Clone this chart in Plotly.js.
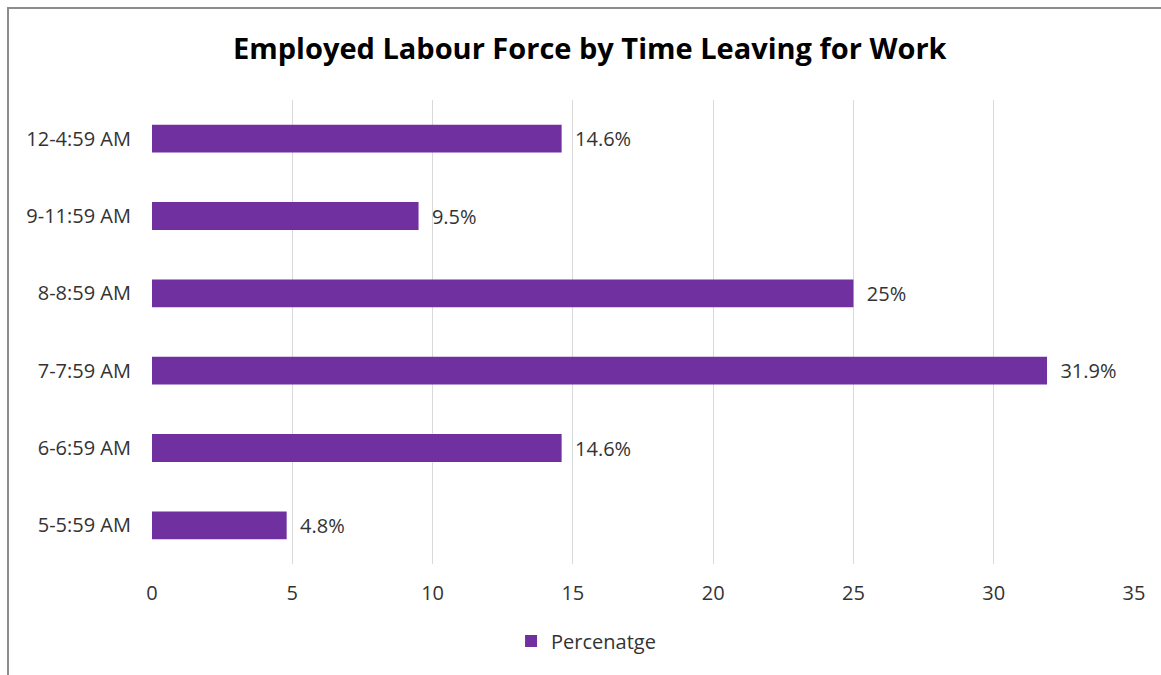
<!DOCTYPE html>
<html>
<head>
<meta charset="utf-8">
<script src="https://cdn.plot.ly/plotly-3.0.1.min.js"></script>
<style>
  body { margin: 0; padding: 0; background: #fff; }
  #chart { width: 1161px; height: 675px; position: absolute; left: 0; top: 0; }
  #frame { position: absolute; left: 7px; top: 7px; width: 1300px; height: 800px;
           border-left: 2px solid #8c8c8c; border-top: 2px solid #8c8c8c; pointer-events: none; }
</style>
</head>
<body>
<div id="chart"></div>
<div id="frame"></div>
<script>
const categories = ["5-5:59 AM", "6-6:59 AM", "7-7:59 AM", "8-8:59 AM", "9-11:59 AM", "12-4:59 AM"];
const percentages = [4.8, 14.6, 31.9, 25, 9.5, 14.6];
const seriesName = "Percenatge";
const xTicks = [0, 5, 10, 15, 20, 25, 30, 35];

const fontFamily = "'Open Sans', 'Liberation Sans', sans-serif";
const textColor = "#333333";

const trace = {
  type: "bar",
  orientation: "h",
  y: categories,
  x: percentages,
  name: seriesName,
  width: 0.36,
  marker: { color: "#7030A0" },
  text: percentages.map(v => "  " + v + "%"),
  textposition: "outside",
  cliponaxis: false,
  textfont: { family: fontFamily, size: 20, color: textColor },
  hoverinfo: "x+y"
};

const layout = {
  width: 1161,
  height: 675,
  margin: { l: 152, r: 27, t: 100, b: 111, autoexpand: false },
  paper_bgcolor: "#ffffff",
  plot_bgcolor: "#ffffff",
  title: {
    text: "<b>Employed Labour Force by Time Leaving for Work</b>",
    x: 0.508, xanchor: "center",
    y: 0.928, yanchor: "middle",
    font: { family: fontFamily, size: 29, color: "#000000" }
  },
  xaxis: {
    range: [0, 35],
    tickvals: xTicks,
    showgrid: true,
    gridcolor: "#d9d9d9",
    gridwidth: 1,
    zeroline: false,
    showline: false,
    ticks: "",
    ticklabelstandoff: 15,
    tickfont: { family: fontFamily, size: 20, color: textColor },
    fixedrange: true
  },
  yaxis: {
    type: "category",
    categoryorder: "array",
    categoryarray: categories,
    showgrid: false,
    zeroline: false,
    showline: false,
    ticks: "",
    ticklabelstandoff: 20,
    tickfont: { family: fontFamily, size: 20, color: textColor },
    fixedrange: true
  },
  showlegend: true,
  legend: {
    orientation: "h",
    x: 0.442, xanchor: "center",
    y: -0.166, yanchor: "middle",
    font: { family: fontFamily, size: 20, color: textColor },
    itemwidth: 30
  },
  bargap: 0.64
};

Plotly.newPlot("chart", [trace], layout, { displayModeBar: false, staticPlot: true });
</script>
</body>
</html>
